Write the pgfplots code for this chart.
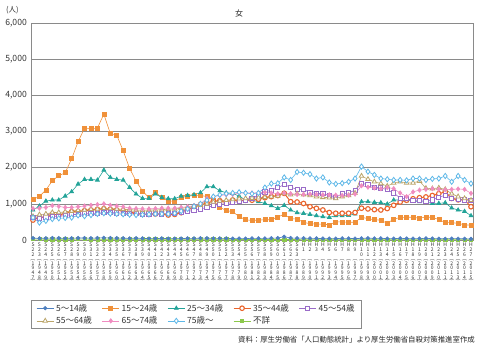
\documentclass[border=0pt]{standalone}
\usepackage{fontspec}
\setmainfont{Noto Sans CJK JP}
\usepackage{pgfplots}
\usepackage{pgfplotstable}
\pgfplotsset{compat=1.18}

\definecolor{c1}{HTML}{4E7FBF}
\definecolor{c2}{HTML}{F0913A}
\definecolor{c3}{HTML}{22A398}
\definecolor{c4}{HTML}{EA642C}
\definecolor{c5}{HTML}{9A6CC8}
\definecolor{c6}{HTML}{BBA56A}
\definecolor{c7}{HTML}{F08CC0}
\definecolor{c8}{HTML}{5EB8E8}
\definecolor{c9}{HTML}{8CC84B}
\definecolor{gridc}{HTML}{8A8A8A}

% 5-14
\pgfplotstableread[row sep=\\]{y\\50\\45\\50\\55\\50\\45\\50\\55\\55\\50\\55\\60\\55\\50\\50\\45\\50\\45\\40\\40\\45\\40\\40\\40\\45\\45\\50\\50\\45\\45\\45\\40\\40\\40\\45\\45\\45\\50\\55\\90\\55\\50\\50\\45\\45\\40\\40\\40\\45\\45\\40\\45\\50\\45\\45\\40\\40\\45\\40\\40\\40\\45\\40\\35\\35\\40\\35\\35\\30\\}\tA
% 15-24
\pgfplotstableread[row sep=\\]{y\\1124\\1206\\1381\\1639\\1777\\1860\\2247\\2716\\3094\\3080\\3094\\3480\\2947\\2900\\2468\\1980\\1630\\1354\\1169\\1326\\1169\\1077\\1077\\1169\\1215\\1234\\1234\\1200\\1100\\900\\820\\780\\650\\560\\540\\550\\560\\560\\640\\710\\590\\580\\490\\450\\440\\440\\420\\500\\500\\490\\490\\630\\590\\560\\550\\460\\580\\620\\630\\630\\600\\640\\620\\570\\480\\480\\460\\420\\410\\}\tB
% 25-34
\pgfplotstableread[row sep=\\]{y\\829\\939\\1077\\1105\\1105\\1215\\1335\\1547\\1676\\1676\\1657\\1934\\1731\\1676\\1657\\1455\\1271\\1151\\1151\\1271\\1179\\1142\\1142\\1215\\1234\\1252\\1307\\1473\\1473\\1363\\1307\\1289\\1215\\1105\\1105\\1059\\1013\\948\\874\\957\\829\\755\\736\\709\\672\\645\\626\\672\\672\\680\\720\\1059\\1059\\1040\\1030\\994\\1105\\1105\\1087\\1087\\1059\\1050\\1013\\1013\\1030\\884\\829\\792\\672\\}\tC
% 35-44
\pgfplotstableread[row sep=\\]{y\\552\\626\\645\\718\\691\\737\\783\\783\\810\\829\\847\\865\\847\\829\\810\\774\\737\\709\\709\\718\\718\\691\\709\\755\\850\\900\\980\\1020\\1077\\1087\\1050\\1105\\1087\\1100\\1100\\1130\\1170\\1200\\1230\\1290\\1060\\1050\\1010\\920\\875\\830\\760\\740\\740\\740\\760\\880\\860\\840\\830\\870\\960\\1050\\1100\\1140\\1170\\1190\\1230\\1280\\1330\\1150\\1110\\1110\\920\\}\tD
% 45-54
\pgfplotstableread[row sep=\\]{y\\620\\600\\640\\660\\650\\680\\700\\710\\720\\730\\740\\760\\760\\750\\740\\740\\730\\720\\720\\730\\720\\730\\740\\760\\790\\820\\860\\900\\950\\990\\1000\\1040\\1060\\1100\\1150\\1240\\1330\\1380\\1450\\1530\\1460\\1400\\1400\\1320\\1290\\1280\\1240\\1180\\1280\\1300\\1380\\1560\\1540\\1460\\1440\\1390\\1300\\1160\\1140\\1100\\1100\\1060\\1110\\1180\\1240\\1140\\1130\\1110\\1100\\}\tE
% 55-64
\pgfplotstableread[row sep=\\]{y\\650\\700\\720\\760\\760\\780\\800\\820\\830\\850\\860\\880\\870\\860\\850\\840\\830\\820\\830\\830\\840\\850\\860\\880\\900\\930\\960\\1000\\1050\\1080\\1100\\1120\\1140\\1150\\1160\\1170\\1180\\1200\\1220\\1290\\1250\\1280\\1250\\1230\\1200\\1180\\1170\\1150\\1200\\1230\\1300\\1770\\1680\\1610\\1560\\1490\\1580\\1610\\1580\\1580\\1630\\1430\\1420\\1440\\1400\\1280\\1200\\1150\\1100\\}\tF
% 65-74
\pgfplotstableread[row sep=\\]{y\\870\\880\\900\\950\\930\\900\\900\\920\\940\\960\\980\\1000\\960\\940\\920\\880\\870\\860\\860\\870\\880\\880\\880\\900\\920\\950\\1000\\1150\\1200\\1230\\1250\\1260\\1300\\1300\\1300\\1310\\1320\\1300\\1280\\1300\\1280\\1260\\1260\\1270\\1260\\1250\\1250\\1240\\1230\\1240\\1270\\1500\\1460\\1440\\1420\\1450\\1420\\1300\\1200\\1330\\1380\\1400\\1420\\1400\\1390\\1400\\1410\\1400\\1290\\}\tG
% 75+
\pgfplotstableread[row sep=\\]{y\\620\\480\\530\\580\\600\\610\\620\\680\\660\\690\\720\\740\\730\\720\\710\\700\\690\\700\\710\\720\\720\\720\\740\\800\\860\\930\\1000\\1100\\1200\\1250\\1280\\1300\\1320\\1300\\1280\\1300\\1450\\1560\\1570\\1730\\1660\\1880\\1860\\1820\\1700\\1730\\1590\\1550\\1570\\1610\\1700\\2030\\1890\\1800\\1700\\1680\\1660\\1660\\1650\\1700\\1700\\1660\\1690\\1700\\1770\\1610\\1770\\1660\\1560\\}\tH
% unknown
\pgfplotstableread[row sep=\\]{y\\25\\25\\20\\20\\20\\20\\20\\25\\25\\20\\20\\20\\20\\20\\20\\20\\20\\20\\20\\20\\20\\20\\20\\20\\20\\20\\20\\20\\20\\20\\20\\15\\15\\15\\15\\15\\15\\15\\15\\15\\15\\15\\10\\10\\10\\10\\10\\10\\10\\10\\10\\10\\10\\10\\10\\10\\10\\10\\10\\10\\10\\10\\10\\10\\10\\10\\10\\10\\10\\}\tI

\newcommand\cc[1]{\hbox to 5pt{\hss#1\hss}}
\def\vst#1{\vstaux#1\relax}
\def\vstaux#1{\ifx\relax#1\else\cc{#1}\expandafter\vstaux\fi}
\newcommand\xlab[1]{%
  \pgfmathtruncatemacro\yr{1947+#1}%
  \ifnum#1<42 \def\era{S}\pgfmathtruncatemacro\en{22+#1}%
  \else\def\era{H}\pgfmathtruncatemacro\en{#1-41}\fi
  \vbox{\baselineskip=4.6pt\lineskiplimit=-20pt\lineskip=0pt
    \cc{\era}%
    \ifnum\en<10 \cc{\en}\cc{}\else\expandafter\vst\expandafter{\en}\fi
    \cc{︵}\expandafter\vst\expandafter{\yr}\cc{︶}}}

\pgfplotsset{
  s1/.style={color=c1, line width=0.6pt, mark=*, mark size=1.8pt},
  s2/.style={color=c2, line width=0.6pt, mark=square*, mark size=2pt},
  s3/.style={color=c3, line width=0.6pt, mark=triangle*, mark size=2.3pt},
  s4/.style={color=c4, line width=1pt, mark=*, mark size=2.3pt, mark options={fill=white, line width=1.1pt}},
  s5/.style={color=c5, line width=0.6pt, mark=square*, mark size=2.1pt, mark options={fill=white, line width=0.9pt}},
  s6/.style={color=c6, line width=0.6pt, mark=triangle*, mark size=2.6pt, mark options={fill=white, line width=0.8pt}},
  s7/.style={color=c7, line width=0.6pt, mark=diamond*, mark size=2.2pt},
  s8/.style={color=c8, line width=0.6pt, mark=diamond*, mark size=2.6pt, mark options={fill=white, line width=0.8pt}},
  s9/.style={color=c9, line width=0.6pt, mark=square*, mark size=1.6pt},
}

\begin{document}
\begin{tikzpicture}
\begin{axis}[
  width=442pt, height=217pt, scale only axis,
  xmin=-0.31, xmax=68.31, ymin=0, ymax=6000,
  xtick={0,...,68}, xticklabel={\xlab{\ticknum}},
  ytick={0,1000,...,6000},
  ymajorgrids, grid style={color=gridc, line width=0.6pt},
  axis line style={color=gridc, line width=0.6pt},
  tick style={draw=none},
  scaled y ticks=false,
  yticklabel style={/pgf/number format/.cd, 1000 sep={,}, assume math mode=true, /tikz/.cd,
    font=\fontsize{8.6}{9}\selectfont, text=black!80, inner xsep=0pt, xshift=-4pt},
  xticklabel style={font=\fontsize{5}{4.6}\selectfont, inner sep=0pt, anchor=north, yshift=-3pt, text=black!80},
  legend columns=5,
  legend cell align=left,
  legend style={at={(0,-0.2765)}, anchor=north west, draw=gridc, line width=0.8pt,
    font=\fontsize{8.5}{10}\selectfont, text=black!80, inner xsep=5pt, inner ysep=1.5pt,
    /tikz/every even column/.append style={column sep=8pt}},
]
\addplot[s9, forget plot] table[x expr=\coordindex, y=y]{\tI};
\addplot[s1] table[x expr=\coordindex, y=y]{\tA}; \addlegendentry{5～14歳}
\addplot[s2] table[x expr=\coordindex, y=y]{\tB}; \addlegendentry{15～24歳}
\addplot[s3] table[x expr=\coordindex, y=y]{\tC}; \addlegendentry{25～34歳}
\addplot[s4] table[x expr=\coordindex, y=y]{\tD}; \addlegendentry{35～44歳}
\addplot[s5] table[x expr=\coordindex, y=y]{\tE}; \addlegendentry{45～54歳}
\addplot[s6] table[x expr=\coordindex, y=y]{\tF}; \addlegendentry{55～64歳}
\addplot[s7] table[x expr=\coordindex, y=y]{\tG}; \addlegendentry{65～74歳}
\addplot[s8] table[x expr=\coordindex, y=y]{\tH}; \addlegendentry{75歳～}
\addlegendimage{s9}\addlegendentry{不詳}
\end{axis}
\node[font=\fontsize{8}{9}\selectfont, text=black!85] at ([xshift=-13pt,yshift=10pt]current axis.north) {女};
\node[font=\fontsize{7.5}{8}\selectfont, text=black!80] at ([xshift=-18.5pt,yshift=12.5pt]current axis.north west) {(人)};
\node[anchor=east, font=\fontsize{7.4}{8}\selectfont, text=black!85, inner sep=0pt] at ([xshift=2pt,yshift=-100pt]current axis.south east) {資料：厚生労働省「人口動態統計」より厚生労働省自殺対策推進室作成};
\pgfresetboundingbox
\path[use as bounding box] ([xshift=-31pt,yshift=-111pt]current axis.south west) rectangle ([xshift=7pt,yshift=23pt]current axis.north east);
\end{tikzpicture}
\end{document}
